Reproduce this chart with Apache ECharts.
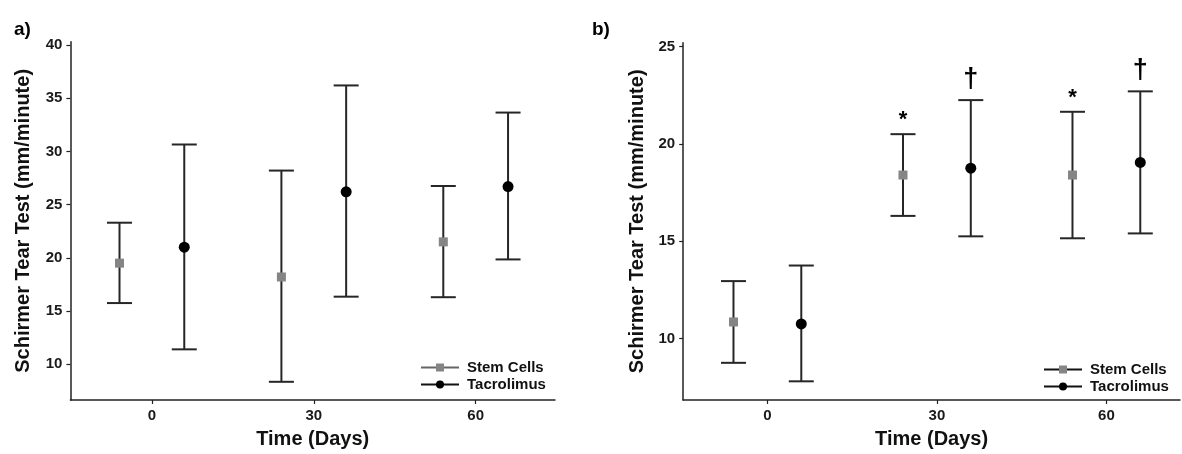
<!DOCTYPE html>
<html>
<head>
<meta charset="utf-8">
<script src="https://cdn.jsdelivr.net/npm/echarts@6/dist/echarts.min.js"></script>
<style>
html,body{margin:0;padding:0;background:#fff;}
#wrap{position:relative;width:1182px;height:454px;}
#chartA{position:absolute;left:0;top:0;width:580px;height:454px;}
#chartB{position:absolute;left:580px;top:0;width:602px;height:454px;}
</style>
</head>
<body>
<div id="wrap"><div id="chartA"></div><div id="chartB"></div></div>
<script>
// ---- data ----
const days = [0, 30, 60];
const seriesNames = ['Stem Cells', 'Tacrolimus'];
const xTicks = [0, 30, 60];
const yTicksA = [10, 15, 20, 25, 30, 35, 40];
const yTicksB = [10, 15, 20, 25];

const aStemMean = [19.5, 18.2, 21.5];
const aStemLow  = [15.75, 8.35, 16.3];
const aStemHigh = [23.3, 28.2, 26.75];
const aTacMean  = [21.0, 26.2, 26.7];
const aTacLow   = [11.4, 16.35, 19.85];
const aTacHigh  = [30.65, 36.2, 33.65];

const bStemMean = [10.85, 18.4, 18.4];
const bStemLow  = [8.75, 16.3, 15.15];
const bStemHigh = [12.95, 20.5, 21.65];
const bTacMean  = [10.75, 18.75, 19.05];
const bTacLow   = [7.8, 15.25, 15.4];
const bTacHigh  = [13.75, 22.25, 22.7];
const bStemMarks = ['', '*', '*'];
const bTacMarks  = ['', '\u2020', '\u2020'];

// ---- styling ----
const FONT = '"Liberation Sans", Arial, sans-serif';
const DODGE = 6;
const CAP = 12.5;
const BAR_COLOR = '#262626';
const STEM_COLOR = '#858585';
const TAC_COLOR = '#000000';
const MARK_STYLE = {
  '*': { size: 22, gap: 3 },
  '\u2020': { size: 27, gap: 7 }
};

function errSeries(xs, low, high, off) {
  return {
    type: 'custom',
    z: 1,
    silent: true,
    data: xs.map((d, i) => [d + off, low[i], high[i]]),
    encode: { x: 0, y: [1, 2] },
    renderItem: function (params, api) {
      const x = api.value(0);
      const pHi = api.coord([x, api.value(2)]);
      const pLo = api.coord([x, api.value(1)]);
      const st = { stroke: BAR_COLOR, lineWidth: 2 };
      return {
        type: 'group',
        children: [
          { type: 'line', shape: { x1: pHi[0], y1: pHi[1], x2: pLo[0], y2: pLo[1] }, style: st },
          { type: 'line', shape: { x1: pHi[0] - CAP, y1: pHi[1], x2: pHi[0] + CAP, y2: pHi[1] }, style: st },
          { type: 'line', shape: { x1: pLo[0] - CAP, y1: pLo[1], x2: pLo[0] + CAP, y2: pLo[1] }, style: st }
        ]
      };
    }
  };
}

function markSeries(xs, high, marks) {
  return {
    type: 'custom',
    z: 2,
    silent: true,
    data: xs.map((d, i) => [d, high[i]]),
    encode: { x: 0, y: 1 },
    renderItem: function (params, api) {
      const p = api.coord([api.value(0), api.value(1)]);
      const t = marks[params.dataIndex];
      if (!t) return null;
      const ms = MARK_STYLE[t];
      return {
        type: 'text',
        x: p[0],
        y: p[1] - ms.gap,
        style: {
          text: t,
          fill: '#000',
          font: 'bold ' + ms.size + 'px ' + FONT,
          align: 'center',
          verticalAlign: 'bottom'
        }
      };
    }
  };
}

function meanSeries(name, xs, mean, off, symbol, size, color) {
  return {
    name: name,
    type: 'line',
    z: 3,
    silent: true,
    data: xs.map((d, i) => [d + off, mean[i]]),
    symbol: symbol,
    symbolSize: size,
    showSymbol: true,
    showAllSymbol: true,
    itemStyle: { color: color, opacity: 1 },
    lineStyle: { opacity: 0, width: 0 }
  };
}

function axisCommon() {
  return {
    axisLine: { show: true, onZero: false, lineStyle: { color: '#222', width: 1.5 } },
    axisTick: { show: true, length: 4, lineStyle: { color: '#222', width: 1.2 } },
    splitLine: { show: false },
    axisLabel: { color: '#1a1a1a', fontSize: 15, fontWeight: 'bold', fontFamily: FONT, margin: 8 },
    nameTextStyle: { color: '#111', fontSize: 20, fontWeight: 'bold', fontFamily: FONT }
  };
}

function buildOption(cfg) {
  const xa = axisCommon();
  const ya = axisCommon();
  return {
    animation: false,
    title: {
      text: cfg.label, left: cfg.labelLeft, top: 15,
      textStyle: { fontSize: 19, fontWeight: 'bold', fontFamily: FONT, color: '#000' }
    },
    grid: { left: cfg.grid.left, top: cfg.grid.top, width: cfg.grid.width, height: cfg.grid.height, containLabel: false },
    xAxis: Object.assign(xa, {
      type: 'value', min: cfg.xMin, max: cfg.xMax,
      name: 'Time (Days)', nameLocation: 'middle', nameGap: 29,
      axisTick: Object.assign(xa.axisTick, { customValues: xTicks }),
      axisLabel: Object.assign(xa.axisLabel, { customValues: xTicks })
    }),
    yAxis: Object.assign(ya, {
      type: 'value', min: cfg.yMin, max: cfg.yMax,
      name: 'Schirmer Tear Test (mm/minute)', nameLocation: 'middle', nameGap: cfg.yNameGap,
      axisTick: Object.assign(ya.axisTick, { customValues: cfg.yTicks }),
      axisLabel: Object.assign(ya.axisLabel, { customValues: cfg.yTicks })
    }),
    legend: {
      orient: 'vertical',
      left: cfg.legendLeft, top: cfg.legendTop,
      padding: 0,
      itemWidth: 38, itemHeight: 10, itemGap: 2,
      selectedMode: false,
      textStyle: { fontSize: 15, fontWeight: 'bold', fontFamily: FONT, color: '#111', padding: [0, 0, 0, 3] },
      data: [
        { name: seriesNames[0], lineStyle: { opacity: 1, width: 2, color: cfg.stemLegendLine } },
        { name: seriesNames[1], lineStyle: { opacity: 1, width: 2, color: '#111' } }
      ]
    },
    series: [
      errSeries(days, cfg.stemLow, cfg.stemHigh, -DODGE),
      errSeries(days, cfg.tacLow, cfg.tacHigh, DODGE),
      meanSeries(seriesNames[0], days, cfg.stemMean, -DODGE, 'rect', 9, STEM_COLOR),
      meanSeries(seriesNames[1], days, cfg.tacMean, DODGE, 'circle', 11, TAC_COLOR)
    ].concat(cfg.extra || [])
  };
}

const chartA = echarts.init(document.getElementById('chartA'), null, { renderer: 'canvas' });
chartA.setOption(buildOption({
  label: 'a)', labelLeft: 9,
  grid: { left: 70.4, top: 41.7, width: 484.6, height: 361 },
  xMin: -15.1, xMax: 74.7, yMin: 6.64, yMax: 40.31, yTicks: yTicksA, yNameGap: 37,
  legendLeft: 420, legendTop: 360, stemLegendLine: '#666',
  stemMean: aStemMean, stemLow: aStemLow, stemHigh: aStemHigh,
  tacMean: aTacMean, tacLow: aTacLow, tacHigh: aTacHigh
}));

const chartB = echarts.init(document.getElementById('chartB'), null, { renderer: 'canvas' });
chartB.setOption(buildOption({
  label: 'b)', labelLeft: 7,
  grid: { left: 103.2, top: 42.7, width: 496.8, height: 360.6 },
  xMin: -14.9, xMax: 73.03, yMin: 6.84, yMax: 25.2, yTicks: yTicksB, yNameGap: 36,
  legendLeft: 463, legendTop: 362, stemLegendLine: '#111',
  stemMean: bStemMean, stemLow: bStemLow, stemHigh: bStemHigh,
  tacMean: bTacMean, tacLow: bTacLow, tacHigh: bTacHigh,
  extra: [
    markSeries(days.map(d => d - DODGE), bStemHigh, bStemMarks),
    markSeries(days.map(d => d + DODGE), bTacHigh, bTacMarks)
  ]
}));
</script>
</body>
</html>
